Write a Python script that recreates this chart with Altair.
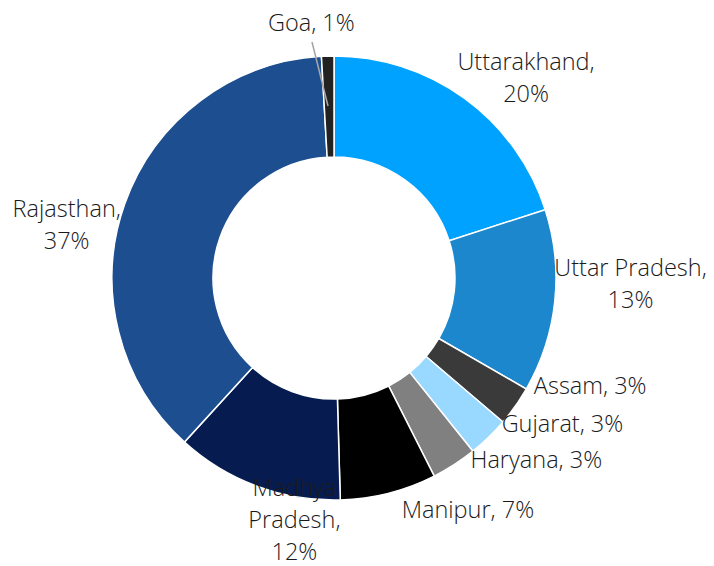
import altair as alt
import pandas as pd

# ---- data ----
states = ["Uttarakhand", "Uttar Pradesh", "Assam", "Gujarat", "Haryana",
          "Manipur", "Madhya Pradesh", "Rajasthan", "Goa"]
shares = [20.0, 13.3, 2.9, 3.0, 3.3, 7.0, 12.2, 37.3, 0.9]
label_names = ["Uttarakhand,\n", "Uttar Pradesh,\n", "Assam, ", "Gujarat, ",
               "Haryana, ", "Manipur, ", "Madhya\nPradesh,\n", "Rajasthan,\n", "Goa, "]
colors = ["#00A2FF", "#1C87CD", "#3A3A3A", "#99D9FF", "#808080",
          "#000000", "#061C50", "#1D4E8F", "#222222"]

df = pd.DataFrame({
    "state": states,
    "share": shares,
    "order": list(range(len(states))),
    "label": [n + f"{round(v)}%" for n, v in zip(label_names, shares)],
})

# label nudges (pixels) relative to the slice mid-angle at radius 272
nudges = {
    "Uttarakhand": (32, 5),
    "Uttar Pradesh": (26, -38),
    "Assam": (34, -48),
    "Gujarat": (39, -48),
    "Haryana": (55, -46),
    "Manipur": (67, -31),
    "Madhya Pradesh": (55, -44),
    "Rajasthan": (-11, 23),
    "Goa": (-15, 18),
}

theta = alt.Theta("share:Q", stack=True)
order = alt.Order("order:Q", sort="ascending")

base = alt.Chart(df)

arcs = base.mark_arc(innerRadius=121, outerRadius=222, stroke="white",
                     strokeWidth=1.5).encode(
    theta=theta,
    order=order,
    color=alt.Color("state:N", scale=alt.Scale(domain=states, range=colors),
                    legend=None),
)

layers = [arcs]
for s in states:
    dx, dy = nudges[s]
    layers.append(
        base.mark_text(radius=272, dx=dx, dy=dy, align="center",
                       baseline="middle", font="Open Sans", fontSize=23.5,
                       fontWeight=300, color="#1A1A1A", lineBreak="\n",
                       lineHeight=32).encode(
            theta=theta,
            order=order,
            text=alt.condition(f"datum.state == '{s}'", alt.Text("label:N"),
                               alt.value("")),
        )
    )

leader = alt.Chart(pd.DataFrame({"k": [0]})).mark_rule(
    color="#A6A6A6", strokeWidth=1.5).encode(
    x=alt.value(312), y=alt.value(42), x2=alt.value(328), y2=alt.value(106))
layers.append(leader)

chart = alt.layer(*layers).properties(
    width=668, height=556,
    autosize=alt.AutoSizeParams(type="none"),
    padding={"left": 0, "top": 0, "right": 46, "bottom": 10},
    background="white",
).configure_view(stroke=None)

chart.save("out.html", embed_options={"renderer": "svg", "actions": False})
